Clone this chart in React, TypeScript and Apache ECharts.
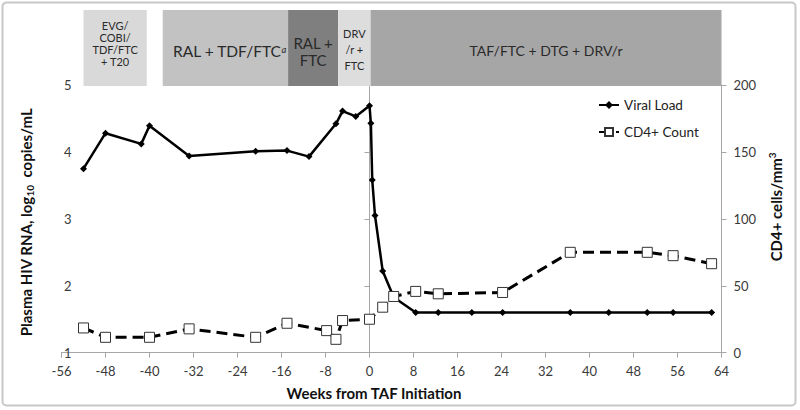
import React, { useEffect, useRef } from "react";
import * as echarts from "echarts";

// ---- data ----
const vlWeeks = [-52, -48, -41.5, -40, -32.8, -20.7, -15, -11, -6.1, -4.9, -2.5, 0, 0.25, 0.5, 1.0, 2.4, 4.4, 8.4, 12.5, 18.6, 24.2, 36.5, 43.5, 50.5, 55.2, 62.2];
const vlValues = [3.75, 4.28, 4.12, 4.39, 3.94, 4.01, 4.02, 3.93, 4.42, 4.61, 4.53, 4.69, 4.43, 3.58, 3.05, 2.22, 1.83, 1.6, 1.6, 1.6, 1.6, 1.6, 1.6, 1.6, 1.6, 1.6];
const cd4Weeks = [-52, -48, -40, -32.8, -20.7, -15, -7.8, -6.1, -4.9, 0, 2.4, 4.4, 8.4, 12.5, 24.2, 36.5, 50.5, 55.2, 62.2];
const cd4Values = [18.5, 11.5, 11.5, 17.8, 11.5, 22, 16.5, 10, 24, 25, 34, 42, 45.8, 44, 45, 75, 75, 72.5, 66.5];
const bandStarts = [-52, -37.6, -14.8, -5.7, 0.2];
const bandEnds = [-40.5, -14.8, -5.7, 0.2, 64];
const bandLabels = ["EVG/\nCOBI/\nTDF/FTC\n+ T20", "RAL + TDF/FTC{sup|a}", "RAL +\nFTC", "DRV\n/r +\nFTC", "TAF/FTC + DTG + DRV/r"];
const seriesNames = ["Viral Load", "CD4+ Count"];

// ---- styles ----
const FONT = "Lato, 'Noto Sans', sans-serif";
const bandColors = ["#d9d9d9", "#c2c2c2", "#7f7f7f", "#dddddd", "#a6a6a6"];
const bandFontSizes = [11, 15.5, 15, 11, 14];
const bandLineHeights = [12, 14, 17, 16, 14];
const bandDy = [-5, 3, 3, 1, 2];
const bandDx = [0, 4, 0, 0, 0];

export default function App() {
  const ref = useRef<HTMLDivElement>(null);
  useEffect(() => {
    document.body.style.margin = "0";
    const chart = echarts.init(ref.current!, undefined, { renderer: "svg" });
    const axisLineGray = { lineStyle: { color: "#a6a6a6", width: 1 } };
    const tickLabel = { fontFamily: FONT, fontSize: 13, color: "#3a3a3a" };
    chart.setOption({
      animation: false,
      backgroundColor: "#fff",
      graphic: [
        {
          type: "rect",
          shape: { x: 2.5, y: 2.5, width: 793, height: 403, r: 4 },
          style: { fill: "none", stroke: "#c8c8c8", lineWidth: 2 },
          silent: true,
          z: -1,
        },
      ],
      legend: {
        orient: "vertical",
        left: 598,
        top: 98,
        padding: 0,
        itemGap: 13,
        itemWidth: 20,
        itemHeight: 10,
        data: seriesNames,
        textStyle: { fontFamily: FONT, fontSize: 13.5, color: "#222" },
      },
      grid: [
        { left: 61.5, right: 78.5, top: 85, bottom: 57.3 },
        { left: 61.5, right: 78.5, top: 10, height: 76 },
      ],
      xAxis: [
        {
          type: "value",
          gridIndex: 0,
          min: -56,
          max: 64,
          interval: 8,
          axisLine: axisLineGray,
          axisTick: { show: true, length: 5, lineStyle: { color: "#a6a6a6" } },
          axisLabel: { ...tickLabel, margin: 12 },
          splitLine: { show: false },
          name: "Weeks from TAF Initiation",
          nameLocation: "middle",
          nameGap: 33,
          nameTextStyle: { fontFamily: FONT, fontSize: 15, fontWeight: "bold", color: "#111", padding: [0, 35, 0, 0] },
        },
        { type: "value", gridIndex: 1, min: -56, max: 64, show: false },
      ],
      yAxis: [
        {
          type: "value",
          gridIndex: 0,
          position: "left",
          offset: -22,
          min: 1,
          max: 5,
          interval: 1,
          axisLine: { show: true, ...axisLineGray },
          axisTick: { show: true, length: 5, lineStyle: { color: "#a6a6a6" } },
          axisLabel: { ...tickLabel, margin: 12 },
          splitLine: { show: false },
          name: "{a|Plasma HIV RNA, log}{s|10}{a|  copies/mL}",
          nameLocation: "middle",
          nameGap: 49,
          nameTextStyle: {
            padding: [0, 7, 0, 0],
            rich: {
              a: { fontFamily: FONT, fontSize: 15, fontWeight: "bold", color: "#111", lineHeight: 18, verticalAlign: "middle" },
              s: { fontFamily: FONT, fontSize: 10, fontWeight: "bold", color: "#111", lineHeight: 10, verticalAlign: "bottom" },
            },
          },
        },
        {
          type: "value",
          gridIndex: 0,
          position: "right",
          min: 0,
          max: 200,
          interval: 50,
          axisLine: { show: true, ...axisLineGray },
          axisTick: { show: true, length: 5, lineStyle: { color: "#a6a6a6" } },
          axisLabel: { ...tickLabel, margin: 12 },
          splitLine: { show: false },
          name: "{a|CD4+ cells/mm}{s|3}",
          nameLocation: "middle",
          nameGap: 45,
          nameTextStyle: {
            padding: [0, 0, 0, 24],
            rich: {
              a: { fontFamily: FONT, fontSize: 15, fontWeight: "bold", color: "#111", lineHeight: 18, verticalAlign: "middle" },
              s: { fontFamily: FONT, fontSize: 10, fontWeight: "bold", color: "#111", lineHeight: 10, verticalAlign: "top" },
            },
          },
        },
        { type: "value", gridIndex: 1, min: 0, max: 1, show: false },
      ],
      series: [
        {
          type: "custom",
          name: "bands",
          xAxisIndex: 1,
          yAxisIndex: 2,
          silent: true,
          data: bandStarts.map((s, i) => [s, bandEnds[i]]),
          encode: { x: [0, 1] },
          renderItem: (params: any, api: any) => {
            const i = params.dataIndex;
            const p0 = api.coord([api.value(0), 1]);
            const p1 = api.coord([api.value(1), 0]);
            return {
              type: "group",
              children: [
                {
                  type: "rect",
                  shape: { x: p0[0], y: p0[1], width: p1[0] - p0[0], height: p1[1] - p0[1] },
                  style: { fill: bandColors[i] },
                },
                {
                  type: "text",
                  style: {
                    text: bandLabels[i],
                    x: (p0[0] + p1[0]) / 2 + bandDx[i],
                    y: (p0[1] + p1[1]) / 2 + bandDy[i],
                    align: "center",
                    verticalAlign: "middle",
                    fill: "#2a2a2a",
                    fontFamily: FONT,
                    fontSize: bandFontSizes[i],
                    lineHeight: bandLineHeights[i],
                    rich: {
                      sup: { fontFamily: FONT, fontSize: 9.5, fontStyle: "italic", fill: "#2a2a2a", verticalAlign: "top", lineHeight: 10 },
                    },
                  },
                },
              ],
            };
          },
        },
        {
          type: "line",
          name: seriesNames[0],
          xAxisIndex: 0,
          yAxisIndex: 0,
          data: vlWeeks.map((w, i) => [w, vlValues[i]]),
          symbol: "diamond",
          symbolSize: 7,
          itemStyle: { color: "#000" },
          lineStyle: { color: "#000", width: 2.5 },
          z: 3,
        },
        {
          type: "line",
          name: seriesNames[1],
          xAxisIndex: 0,
          yAxisIndex: 1,
          data: cd4Weeks.map((w, i) => [w, cd4Values[i]]),
          symbol: "rect",
          symbolSize: 10,
          showAllSymbol: true,
          itemStyle: { color: "#fff", borderColor: "#333", borderWidth: 1 },
          lineStyle: { color: "#000", width: 3, type: [11, 6] },
          z: 4,
        },
      ],
    });
    return () => chart.dispose();
  }, []);
  return <div ref={ref} style={{ position: "absolute", left: 0, top: 0, width: 800, height: 410 }} />;
}
